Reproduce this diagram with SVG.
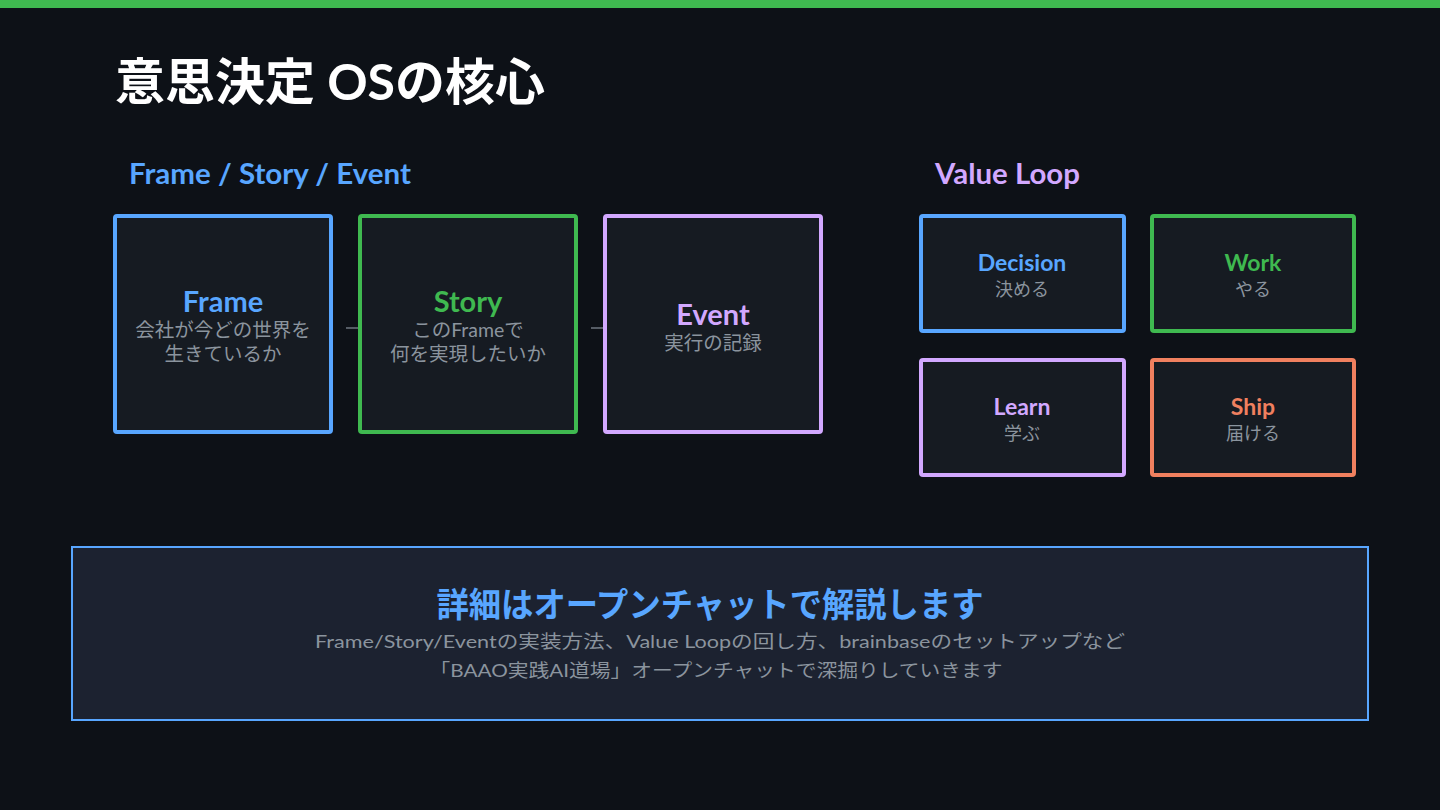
<svg xmlns="http://www.w3.org/2000/svg" width="1440" height="810" viewBox="0 0 1440 810">
<style>
text{font-family:"Lato","Noto Sans CJK JP",sans-serif}
.h{font-weight:700}
.sub{fill:#8b949e;font-size:18px;text-anchor:middle}
.big{font-size:19.5px}
.lbl{font-weight:700;text-anchor:middle}
.box{fill:#161b22;stroke-width:4}
.blue{fill:#58a6ff}.green{fill:#3fb950}.purple{fill:#d2a8ff}.orange{fill:#f0805f}
.sblue{stroke:#58a6ff}.sgreen{stroke:#3fb950}.spurple{stroke:#d2a8ff}.sorange{stroke:#f0805f}
</style>
<rect x="0" y="0" width="1440" height="810" fill="#0d1117"/>
<rect x="0" y="0" width="1440" height="8" fill="#3fb950"/>
<text x="115" y="100" class="h" font-size="50" fill="#ffffff">意思決定 OSの核心</text>
<text x="129" y="184" class="h blue" font-size="29" textLength="282" lengthAdjust="spacingAndGlyphs">Frame / Story / Event</text>
<text x="935" y="184" class="h purple" font-size="29" textLength="145" lengthAdjust="spacingAndGlyphs">Value Loop</text>
<g id="connectors" stroke="#6e7681" stroke-width="1.5">
<line x1="346" y1="328" x2="360" y2="328"/>
<line x1="591" y1="328" x2="605" y2="328"/>
</g>
<g id="frame">
<rect x="115" y="216" width="216" height="216" rx="2" class="box sblue"/>
<text x="223" y="312" class="lbl blue" font-size="29">Frame</text>
<text x="223" y="337" class="sub big">会社が今どの世界を</text>
<text x="223" y="361" class="sub big">生きているか</text>
</g>
<g id="story">
<rect x="360" y="216" width="216" height="216" rx="2" class="box sgreen"/>
<text x="468" y="312" class="lbl green" font-size="29">Story</text>
<text x="468" y="337" class="sub big">このFrameで</text>
<text x="468" y="361" class="sub big">何を実現したいか</text>
</g>
<g id="event">
<rect x="605" y="216" width="216" height="216" rx="2" class="box spurple"/>
<text x="713" y="325" class="lbl purple" font-size="29">Event</text>
<text x="713" y="350" class="sub big">実行の記録</text>
</g>
<g id="decision">
<rect x="921" y="216" width="203" height="115" rx="2" class="box sblue"/>
<text x="1022" y="271" class="lbl blue" font-size="23">Decision</text>
<text x="1022" y="296" class="sub">決める</text>
</g>
<g id="work">
<rect x="1152" y="216" width="202" height="115" rx="2" class="box sgreen"/>
<text x="1253" y="271" class="lbl green" font-size="23">Work</text>
<text x="1253" y="296" class="sub">やる</text>
</g>
<g id="learn">
<rect x="921" y="360" width="203" height="115" rx="2" class="box spurple"/>
<text x="1022" y="415" class="lbl purple" font-size="23">Learn</text>
<text x="1022" y="440" class="sub">学ぶ</text>
</g>
<g id="ship">
<rect x="1152" y="360" width="202" height="115" rx="2" class="box sorange"/>
<text x="1253" y="415" class="lbl orange" font-size="23">Ship</text>
<text x="1253" y="440" class="sub">届ける</text>
</g>
<g id="cta">
<rect x="72" y="547" width="1296" height="173" fill="#1c2230" stroke="#58a6ff" stroke-width="2"/>
<text x="710" y="617" class="lbl blue" font-size="34" textLength="547" lengthAdjust="spacingAndGlyphs">詳細はオープンチャットで解説します</text>
<text x="720" y="648" class="sub" font-size="20" textLength="810" lengthAdjust="spacingAndGlyphs">Frame/Story/Eventの実装方法、Value Loopの回し方、brainbaseのセットアップなど</text>
<text x="716" y="677" class="sub" font-size="20" textLength="573" lengthAdjust="spacingAndGlyphs">「BAAO実践AI道場」オープンチャットで深掘りしていきます</text>
</g>
</svg>
